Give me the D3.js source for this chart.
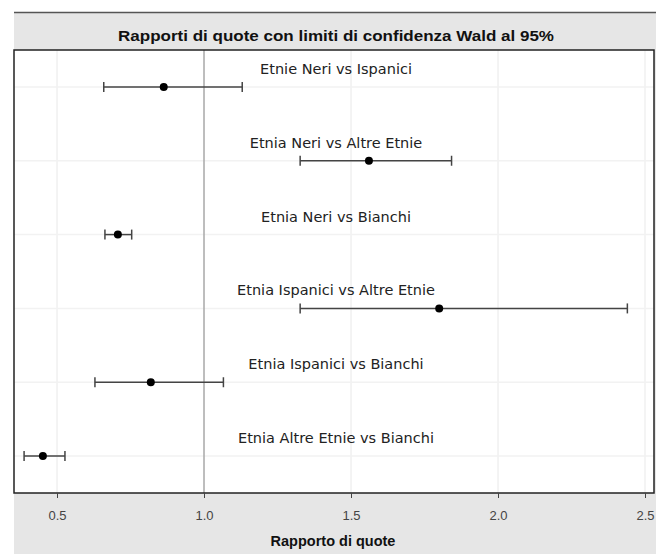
<!DOCTYPE html>
<html>
<head>
<meta charset="utf-8">
<script src="https://cdn.jsdelivr.net/npm/d3@7"></script>
<style>
  body { margin: 0; background: #fff; }
  svg { display: block; }
</style>
</head>
<body>
<svg id="vis" width="661" height="555"></svg>
<script>
// odds ratios and 95% Wald limits
const comparisons = [
  'Etnie Neri vs Ispanici',
  'Etnia Neri vs Altre Etnie',
  'Etnia Neri vs Bianchi',
  'Etnia Ispanici vs Altre Etnie',
  'Etnia Ispanici vs Bianchi',
  'Etnia Altre Etnie vs Bianchi'
];
const oddsRatio = [0.863, 1.561, 0.707, 1.800, 0.819, 0.452];
const lowerCL = [0.659, 1.327, 0.663, 1.327, 0.629, 0.388];
const upperCL = [1.130, 1.842, 0.754, 2.440, 1.066, 0.527];
const xTicks = [0.5, 1.0, 1.5, 2.0, 2.5];

const rows = comparisons.map((c, i) => ({ label: c, or: oddsRatio[i], lo: lowerCL[i], hi: upperCL[i] }));

const vis = d3.select('#vis');
const plot = { left: 14, top: 50, right: 654, bottom: 493 };

// outer grey frame
vis.append('rect')
  .attr('x', 14).attr('y', 12)
  .attr('width', 642).attr('height', 542)
  .attr('fill', '#e6e6e6');
vis.append('line')
  .attr('x1', 14).attr('x2', 656)
  .attr('y1', 12.5).attr('y2', 12.5)
  .attr('stroke', '#555').attr('stroke-width', 1.5);

vis.append('text')
  .attr('x', 336).attr('y', 41)
  .attr('text-anchor', 'middle')
  .attr('font-family', 'Liberation Sans, Arial, sans-serif')
  .attr('font-weight', 'bold')
  .attr('font-size', 15.5)
  .attr('textLength', 436)
  .attr('lengthAdjust', 'spacingAndGlyphs')
  .attr('fill', '#111')
  .text('Rapporti di quote con limiti di confidenza Wald al 95%');

const x = d3.scaleLinear()
  .domain([0.3537, 2.5306])
  .range([plot.left, plot.right]);

const y = d3.scalePoint()
  .domain(comparisons)
  .range([plot.top, plot.bottom])
  .padding(0.5);

vis.append('rect')
  .attr('x', plot.left).attr('y', plot.top)
  .attr('width', plot.right - plot.left).attr('height', plot.bottom - plot.top)
  .attr('fill', '#fff');

// grid
vis.append('g').selectAll('line.vgrid')
  .data(xTicks.filter(d => d !== 1))
  .enter()
    .append('line')
    .classed('vgrid', true)
    .attr('x1', d => x(d)).attr('x2', d => x(d))
    .attr('y1', plot.top).attr('y2', plot.bottom)
    .attr('stroke', '#f0f0f0').attr('stroke-width', 1.5);

vis.append('g').selectAll('line.hgrid')
  .data(comparisons)
  .enter()
    .append('line')
    .classed('hgrid', true)
    .attr('x1', plot.left).attr('x2', plot.right)
    .attr('y1', d => y(d)).attr('y2', d => y(d))
    .attr('stroke', '#f2f2f2').attr('stroke-width', 1.5);

// reference line at OR = 1
vis.append('line')
  .attr('x1', x(1)).attr('x2', x(1))
  .attr('y1', plot.top).attr('y2', plot.bottom)
  .attr('stroke', '#a8a8a8').attr('stroke-width', 1.5);

// error bars
const bars = vis.append('g').selectAll('g.bar')
  .data(rows)
  .enter()
    .append('g')
    .classed('bar', true);

bars.append('line')
  .attr('x1', d => x(d.lo)).attr('x2', d => x(d.hi))
  .attr('y1', d => y(d.label)).attr('y2', d => y(d.label))
  .attr('stroke', '#444').attr('stroke-width', 1.5);

bars.selectAll('line.cap')
  .data(d => [{ v: d.lo, label: d.label }, { v: d.hi, label: d.label }])
  .enter()
    .append('line')
    .classed('cap', true)
    .attr('x1', d => x(d.v)).attr('x2', d => x(d.v))
    .attr('y1', d => y(d.label) - 5).attr('y2', d => y(d.label) + 5)
    .attr('stroke', '#444').attr('stroke-width', 1.5);

bars.append('circle')
  .attr('cx', d => x(d.or))
  .attr('cy', d => y(d.label))
  .attr('r', 4)
  .attr('fill', '#000');

bars.append('text')
  .attr('x', 336)
  .attr('y', d => y(d.label) - 13)
  .attr('text-anchor', 'middle')
  .attr('font-family', 'DejaVu Sans, sans-serif')
  .attr('font-size', 14.5)
  .attr('fill', '#222')
  .text(d => d.label);

// plot border
vis.append('rect')
  .attr('x', plot.left).attr('y', plot.top)
  .attr('width', plot.right - plot.left).attr('height', plot.bottom - plot.top)
  .attr('fill', 'none')
  .attr('stroke', '#222').attr('stroke-width', 1.5);

// x axis
const xAxis = vis.append('g')
  .attr('transform', 'translate(0,' + plot.bottom + ')')
  .call(d3.axisBottom(x).tickValues(xTicks).tickFormat(d3.format('.1f')).tickSize(5).tickPadding(13));
xAxis.select('.domain').remove();
xAxis.selectAll('line').attr('stroke', '#444');
xAxis.selectAll('text')
  .attr('font-family', 'Liberation Sans, Arial, sans-serif')
  .attr('font-size', 13)
  .attr('fill', '#444');

vis.append('text')
  .attr('x', 333).attr('y', 546)
  .attr('text-anchor', 'middle')
  .attr('font-family', 'Liberation Sans, Arial, sans-serif')
  .attr('font-weight', 'bold')
  .attr('font-size', 14.5)
  .attr('fill', '#111')
  .text('Rapporto di quote');
</script>
</body>
</html>
